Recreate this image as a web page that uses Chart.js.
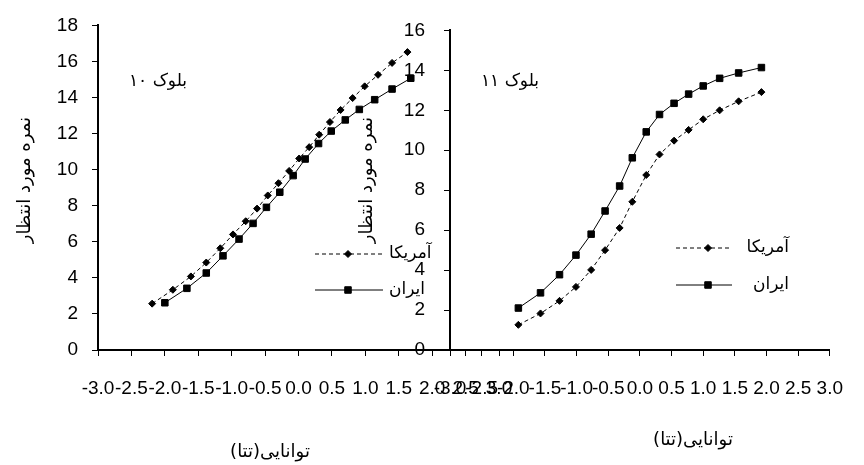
<!DOCTYPE html>
<html>
<head>
<meta charset="utf-8">
<script src="https://cdn.jsdelivr.net/npm/chart.js@4/dist/chart.umd.min.js"></script>
<style>
  body { margin: 0; background: #fff; width: 864px; height: 465px; overflow: hidden; position: relative; }
  canvas { position: absolute; top: 0; }
  #block10 { left: 0; }
  #block11 { left: 330px; }
</style>
</head>
<body>
<canvas id="block10" width="540" height="465"></canvas>
<canvas id="block11" width="534" height="465"></canvas>
<script>
// block 10 - each country has its own theta points
const b10UsaTheta = [-2.19, -1.88, -1.61, -1.38, -1.17, -0.98, -0.79, -0.62, -0.46, -0.30, -0.14, 0.01, 0.16, 0.31, 0.47, 0.63, 0.81, 0.99, 1.19, 1.40, 1.63];
const b10UsaScore = [2.57, 3.34, 4.08, 4.85, 5.64, 6.41, 7.14, 7.84, 8.57, 9.25, 9.93, 10.62, 11.25, 11.94, 12.64, 13.31, 13.97, 14.62, 15.26, 15.92, 16.52];
const b10IranTheta = [-2.00, -1.67, -1.38, -1.13, -0.89, -0.68, -0.48, -0.28, -0.08, 0.10, 0.30, 0.49, 0.70, 0.91, 1.14, 1.40, 1.68];
const b10IranScore = [2.62, 3.42, 4.27, 5.22, 6.15, 7.02, 7.91, 8.75, 9.67, 10.59, 11.45, 12.14, 12.76, 13.34, 13.88, 14.47, 15.07];

// block 11 - shared theta points
const b11Theta = [-1.92, -1.57, -1.27, -1.01, -0.77, -0.55, -0.32, -0.12, 0.10, 0.31, 0.54, 0.77, 1.00, 1.26, 1.56, 1.92];
const b11IranScore = [2.10, 2.86, 3.77, 4.75, 5.80, 6.96, 8.21, 9.62, 10.92, 11.79, 12.35, 12.81, 13.22, 13.60, 13.87, 14.14];
const b11UsaScore = [1.26, 1.83, 2.46, 3.16, 4.01, 5.00, 6.11, 7.42, 8.76, 9.79, 10.48, 11.02, 11.55, 12.00, 12.45, 12.91];

const usaLabel = 'آمریکا';
const iranLabel = 'ایران';
const yTitle = 'نمره مورد انتظار';
const xTitle = 'توانایی(تتا)';

const tickFont = { family: '"Liberation Sans", Arial, sans-serif', size: 19 };
const titleFont = '18px "DejaVu Sans", sans-serif';
const noteFont = '17px "DejaVu Sans", sans-serif';

function toPoints(xs, ys) {
  return xs.map((x, i) => ({ x: x, y: ys[i] }));
}

function usaDataset(points) {
  return {
    label: usaLabel, data: points, showLine: true,
    borderColor: '#000', borderWidth: 1, borderDash: [4, 3],
    pointStyle: 'rectRot', pointRadius: 3.5, pointBorderWidth: 1,
    pointBackgroundColor: '#000', pointBorderColor: '#000'
  };
}

function iranDataset(points) {
  return {
    label: iranLabel, data: points, showLine: true,
    borderColor: '#000', borderWidth: 1,
    pointStyle: 'rect', pointRadius: 4.6, pointBorderWidth: 1,
    pointBackgroundColor: '#000', pointBorderColor: '#000'
  };
}

function axes(yMax, yPad, yWidth) {
  const grid = { drawOnChartArea: false, color: '#000', tickLength: 6, lineWidth: 1 };
  const border = { color: '#000', width: 2 };
  return {
    x: {
      type: 'linear', min: -3, max: 3,
      ticks: { stepSize: 0.5, autoSkip: false, maxRotation: 0, color: '#000', font: tickFont, padding: 21,
               callback: v => v.toFixed(1) },
      grid: grid, border: border,
      afterFit: s => { s.height = 115; }
    },
    y: {
      min: 0, max: yMax,
      ticks: { stepSize: 2, color: '#000', font: tickFont, padding: yPad },
      grid: grid, border: border,
      afterFit: s => { s.width = yWidth; }
    }
  };
}

// titles, block name and the in-plot legend
function textPlugin(cfg) {
  return {
    id: 'texts',
    afterDraw(chart) {
      const ctx = chart.ctx;
      ctx.save();
      ctx.fillStyle = '#000';
      ctx.strokeStyle = '#000';
      ctx.direction = 'rtl';
      ctx.textBaseline = 'middle';

      ctx.font = titleFont;
      ctx.save();
      ctx.translate(cfg.yTitle[0], cfg.yTitle[1]);
      ctx.rotate(-Math.PI / 2);
      ctx.textAlign = 'center';
      ctx.fillText(yTitle, 0, 0);
      ctx.restore();

      ctx.textAlign = 'center';
      ctx.fillText(xTitle, cfg.xTitle[0], cfg.xTitle[1]);
      ctx.font = noteFont;
      ctx.fillText(cfg.block, cfg.blockPos[0], cfg.blockPos[1]);

      const lg = cfg.legend;
      [[usaLabel, lg.usaY, [4, 3], 'rectRot', 3.5], [iranLabel, lg.iranY, [], 'rect', 4.6]].forEach(row => {
        ctx.lineWidth = 1;
        ctx.setLineDash(row[2]);
        ctx.beginPath();
        ctx.moveTo(lg.x1, row[1]);
        ctx.lineTo(lg.x2, row[1]);
        ctx.stroke();
        ctx.setLineDash([]);
        Chart.helpers.drawPoint(ctx, { pointStyle: row[3], radius: row[4], borderWidth: 1, rotation: 0 }, lg.marker, row[1]);
        ctx.textAlign = lg.align;
        ctx.fillText(row[0], lg.textX, row[1]);
      });
      ctx.restore();
    }
  };
}

new Chart(document.getElementById('block10'), {
  type: 'scatter',
  data: {
    datasets: [usaDataset(toPoints(b10UsaTheta, b10UsaScore)), iranDataset(toPoints(b10IranTheta, b10IranScore))]
  },
  options: {
    responsive: false, animation: false,
    layout: { padding: { left: 0, right: 41, top: 24, bottom: 0 } },
    scales: axes(18, 14, 98),
    plugins: { legend: { display: false }, tooltip: { enabled: false } }
  },
  plugins: [textPlugin({
    yTitle: [25, 180], xTitle: [270, 452], block: 'بلوک ۱۰', blockPos: [158, 82],
    legend: { usaY: 254, iranY: 290, x1: 315, x2: 383, marker: 348, textX: 389, align: 'left' }
  })]
});

new Chart(document.getElementById('block11'), {
  type: 'scatter',
  data: {
    datasets: [usaDataset(toPoints(b11Theta, b11UsaScore)), iranDataset(toPoints(b11Theta, b11IranScore))]
  },
  options: {
    responsive: false, animation: false,
    layout: { padding: { left: 0, right: 14, top: 24, bottom: 0 } },
    scales: axes(16, 19, 120),
    plugins: { legend: { display: false }, tooltip: { enabled: false } }
  },
  plugins: [textPlugin({
    yTitle: [37, 180], xTitle: [363, 440], block: 'بلوک ۱۱', blockPos: [180, 82],
    legend: { usaY: 248, iranY: 285, x1: 346, x2: 402, marker: 378, textX: 459, align: 'right' }
  })]
});
</script>
</body>
</html>
